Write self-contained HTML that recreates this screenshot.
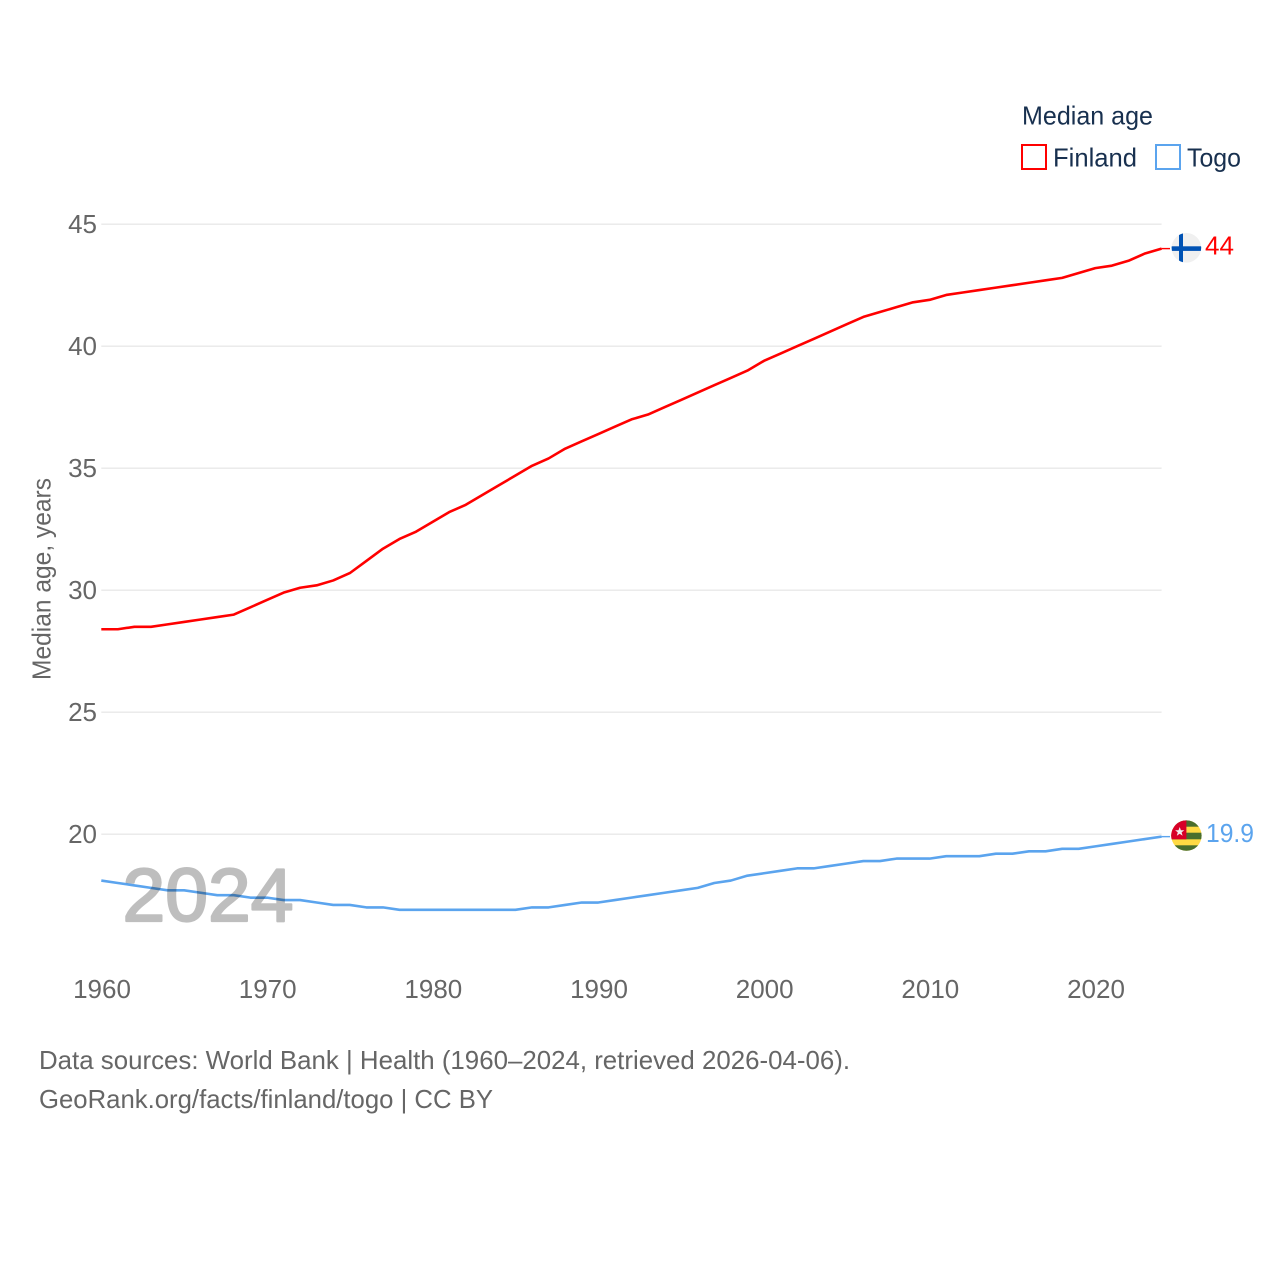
<!DOCTYPE html>
<html lang="en">
<head>
<meta charset="utf-8">
<title>Median age: Finland and Togo</title>
<style>
html,body{margin:0;padding:0;background:#fff;width:1280px;height:1280px;overflow:hidden}
svg{display:block;font-family:"Liberation Sans",sans-serif}
</style>
</head>
<body>
<svg id="chart" xmlns="http://www.w3.org/2000/svg" width="1280" height="1280" viewBox="0 0 1280 1280">
  <rect width="1280" height="1280" fill="#fff"/>
  <g id="grid"></g>
  <g id="yticks"></g>
  <g id="xticks"></g>
  <text transform="translate(50.5 680) rotate(-90)" font-size="26" fill="#666" textLength="202" lengthAdjust="spacingAndGlyphs">Median age, years</text>
  <g id="series"></g>
  <text x="122.5" y="921" font-size="75" fill="#000" stroke="#000" stroke-width="2.2" stroke-linejoin="round" opacity="0.25" textLength="171" lengthAdjust="spacingAndGlyphs">2024</text>

  <g>
    <text x="1022" y="124.5" font-size="26" fill="#18304f" textLength="131" lengthAdjust="spacingAndGlyphs">Median age</text>
    <g>
      <rect x="1022" y="145" width="24" height="24" fill="none" stroke="#ff0000" stroke-width="2"/>
      <text x="1053" y="166.5" font-size="26" fill="#18304f" textLength="84" lengthAdjust="spacingAndGlyphs">Finland</text>
    </g>
    <g>
      <rect x="1156" y="145" width="24" height="24" fill="none" stroke="#5ba4ee" stroke-width="2"/>
      <text x="1187" y="166.5" font-size="26" fill="#18304f" textLength="54" lengthAdjust="spacingAndGlyphs">Togo</text>
    </g>
  </g>

  <defs>
    <clipPath id="flag-clip-fi"><circle cx="1186.4" cy="247.8" r="14.8"/></clipPath>
    <clipPath id="flag-clip-tg"><circle cx="1186.4" cy="835.6" r="15.2"/></clipPath>
  </defs>
  <g clip-path="url(#flag-clip-fi)">
    <rect x="1171" y="232" width="31" height="32" fill="#f0f0f0"/>
    <rect x="1179" y="232" width="4" height="32" fill="#0052b4"/>
    <rect x="1171" y="246.3" width="31" height="4.6" fill="#0052b4"/>
  </g>
  <g clip-path="url(#flag-clip-tg)">
    <rect x="1171" y="820" width="31" height="32" fill="#ffda44"/>
    <rect x="1171" y="820" width="31" height="6.7" fill="#496e2d"/>
    <rect x="1171" y="832.7" width="31" height="6.6" fill="#496e2d"/>
    <rect x="1171" y="845.3" width="31" height="7" fill="#496e2d"/>
    <rect x="1171" y="820" width="15.4" height="19.3" fill="#d80027"/>
    <polygon points="1179.7,827 1180.9,830.3 1184.3,830.3 1181.6,832.4 1182.6,835.7 1179.7,833.7 1176.8,835.7 1177.8,832.4 1175.1,830.3 1178.5,830.3" fill="#f0f0f0"/>
  </g>
  <text x="1205" y="254.5" font-size="26" fill="#ff0000" textLength="29" lengthAdjust="spacingAndGlyphs">44</text>
  <text x="1206" y="842" font-size="26" fill="#5ba4ee" textLength="48" lengthAdjust="spacingAndGlyphs">19.9</text>

  <g>
    <text x="39" y="1069" font-size="26" fill="#666" textLength="811" lengthAdjust="spacingAndGlyphs">Data sources: World Bank | Health (1960–2024, retrieved 2026-04-06).</text>
    <text x="39" y="1108" font-size="26" fill="#666" textLength="454" lengthAdjust="spacingAndGlyphs">GeoRank.org/facts/finland/togo | CC BY</text>
  </g>
</svg>
<script>
const years = [1960,1961,1962,1963,1964,1965,1966,1967,1968,1969,1970,1971,1972,1973,1974,1975,1976,1977,1978,1979,1980,1981,1982,1983,1984,1985,1986,1987,1988,1989,1990,1991,1992,1993,1994,1995,1996,1997,1998,1999,2000,2001,2002,2003,2004,2005,2006,2007,2008,2009,2010,2011,2012,2013,2014,2015,2016,2017,2018,2019,2020,2021,2022,2023,2024];
const finland = [28.4,28.4,28.5,28.5,28.6,28.7,28.8,28.9,29.0,29.3,29.6,29.9,30.1,30.2,30.4,30.7,31.2,31.7,32.1,32.4,32.8,33.2,33.5,33.9,34.3,34.7,35.1,35.4,35.8,36.1,36.4,36.7,37.0,37.2,37.5,37.8,38.1,38.4,38.7,39.0,39.4,39.7,40.0,40.3,40.6,40.9,41.2,41.4,41.6,41.8,41.9,42.1,42.2,42.3,42.4,42.5,42.6,42.7,42.8,43.0,43.2,43.3,43.5,43.8,44.0];
const togo = [18.1,18.0,17.9,17.8,17.7,17.7,17.6,17.5,17.5,17.4,17.4,17.3,17.3,17.2,17.1,17.1,17.0,17.0,16.9,16.9,16.9,16.9,16.9,16.9,16.9,16.9,17.0,17.0,17.1,17.2,17.2,17.3,17.4,17.5,17.6,17.7,17.8,18.0,18.1,18.3,18.4,18.5,18.6,18.6,18.7,18.8,18.9,18.9,19.0,19.0,19.0,19.1,19.1,19.1,19.2,19.2,19.3,19.3,19.4,19.4,19.5,19.6,19.7,19.8,19.9];
const yTickValues = [20,25,30,35,40,45];
const xTickValues = [1960,1970,1980,1990,2000,2010,2020];

const SVG_NS = 'http://www.w3.org/2000/svg';
function xScale(year) { return 101.3 + (year - 1960) * (1095.3 - 101.3) / 60; }
function yScale(value) { return 834.2 - (value - 20) * 24.4; }

const gridLayer = document.getElementById('grid');
const yTickLayer = document.getElementById('yticks');
const xTickLayer = document.getElementById('xticks');
const seriesLayer = document.getElementById('series');

yTickValues.forEach(function (v) {
  const line = document.createElementNS(SVG_NS, 'line');
  
  
  line.setAttribute('x1', xScale(1960));
  line.setAttribute('x2', xScale(2024));
  line.setAttribute('y1', yScale(v));
  line.setAttribute('y2', yScale(v));
  line.setAttribute('stroke', '#e8e8e8');
  line.setAttribute('stroke-width', '1.3');
  gridLayer.appendChild(line);

  const label = document.createElementNS(SVG_NS, 'text');
  
  
  label.setAttribute('x', 97);
  label.setAttribute('y', yScale(v) + 9);
  label.setAttribute('text-anchor', 'end');
  label.setAttribute('font-size', '26');
  label.setAttribute('fill', '#666');
  label.textContent = v;
  yTickLayer.appendChild(label);
});

xTickValues.forEach(function (t) {
  const label = document.createElementNS(SVG_NS, 'text');
  
  
  label.setAttribute('x', xScale(t) + 0.7);
  label.setAttribute('y', 998);
  label.setAttribute('text-anchor', 'middle');
  label.setAttribute('font-size', '26');
  label.setAttribute('fill', '#666');
  label.textContent = t;
  xTickLayer.appendChild(label);
});

function drawSeries(name, values, color) {
  const pts = values.map(function (v, i) { return xScale(years[i]).toFixed(2) + ',' + yScale(v).toFixed(2); });
  const path = document.createElementNS(SVG_NS, 'polyline');
  
  
  path.setAttribute('points', pts.join(' '));
  path.setAttribute('fill', 'none');
  path.setAttribute('stroke', color);
  path.setAttribute('stroke-width', '2.6');
  path.setAttribute('stroke-linejoin', 'round');
  seriesLayer.appendChild(path);

  const lastY = yScale(values[values.length - 1]);
  const leader = document.createElementNS(SVG_NS, 'line');
  
  
  leader.setAttribute('x1', xScale(years[years.length - 1]));
  leader.setAttribute('x2', 1170);
  leader.setAttribute('y1', lastY);
  leader.setAttribute('y2', lastY);
  leader.setAttribute('stroke', color);
  leader.setAttribute('stroke-width', '1.4');
  seriesLayer.appendChild(leader);
}
drawSeries('finland', finland, '#ff0000');
drawSeries('togo', togo, '#5ba4ee');
</script>
</body>
</html>
